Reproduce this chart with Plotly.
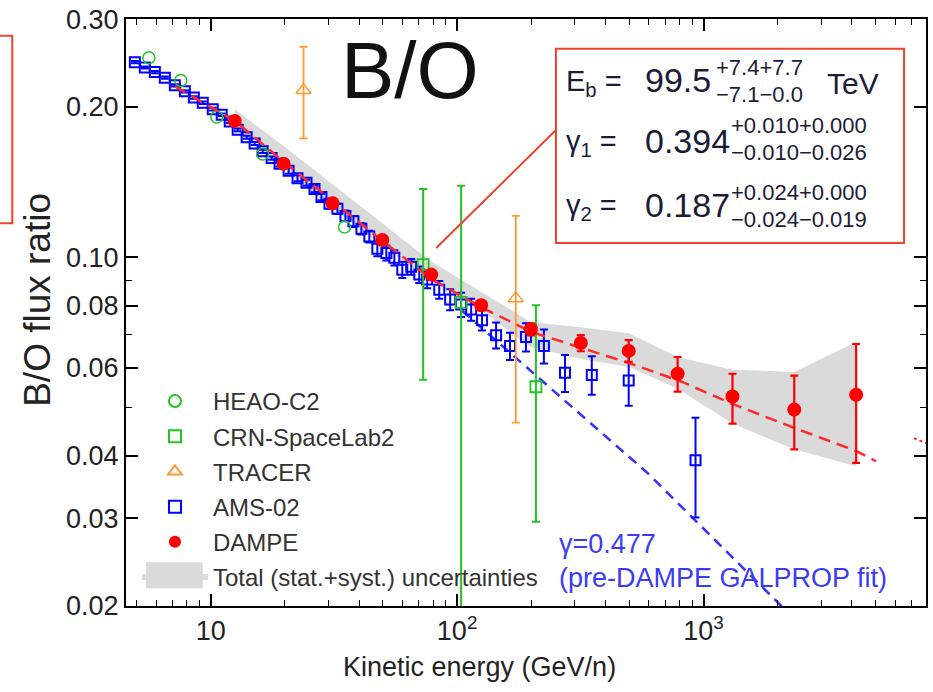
import plotly.graph_objects as go

# ---------------- data ----------------
ams_E = [4.92, 5.40, 5.93, 6.51, 7.15, 7.85, 8.54, 9.28, 10.19, 11.08, 11.94, 12.86,
         13.99, 15.07, 16.24, 17.66, 19.02, 20.70, 22.50, 24.47, 26.37, 28.14, 30.33,
         32.67, 35.21, 37.94, 40.87, 44.02, 47.44, 51.6, 55.6, 59.9, 65.1, 70.2, 75.6,
         84.6, 93.7, 103.8, 114.0, 126.2, 143.9, 163.9, 190.2, 225.0, 274.0, 352.0,
         497.0, 928.0]
ams_R = [0.246, 0.240, 0.235, 0.229, 0.221, 0.215, 0.209, 0.204, 0.198, 0.193, 0.187,
         0.180, 0.174, 0.169, 0.163, 0.158, 0.154, 0.149, 0.144, 0.141, 0.137, 0.132,
         0.128, 0.125, 0.121, 0.118, 0.114, 0.110, 0.104, 0.102, 0.0998, 0.0944, 0.0957,
         0.0923, 0.0902, 0.0861, 0.0823, 0.0804, 0.0786, 0.0748, 0.0698, 0.0664, 0.0692,
         0.0664, 0.0587, 0.0581, 0.0566, 0.0392]
ams_up = [0.0012] * 16 + [0.002] * 6 + [0.003] * 6 + [0.0035] * 7 + \
         [0.0035, 0.004, 0.0045, 0.004, 0.0035, 0.0042, 0.0042, 0.0045, 0.0052,
          0.0050, 0.0052, 0.0071, 0.0085]
ams_dn = [0.0012] * 16 + [0.002] * 6 + [0.003] * 6 + [0.0035] * 7 + \
         [0.0035, 0.004, 0.0045, 0.004, 0.0035, 0.0042, 0.0042, 0.0045, 0.0052,
          0.0050, 0.0051, 0.0062, 0.0091]

heao_E = [5.61, 7.56, 10.58, 16.24, 34.9]
heao_R = [0.251, 0.226, 0.191, 0.161, 0.115]

crn_E = [72.8, 103.8, 208.8]
crn_R = [0.0966, 0.0812, 0.0550]
crn_up = [0.0404, 0.0578, 0.0251]
crn_dn = [0.0398, 0.0762, 0.0255]

tracer_E = [23.8, 173.0]
tracer_R = [0.216, 0.0827]
tracer_up = [0.048, 0.0383]
tracer_dn = [0.043, 0.0361]

dampe_E = [12.51, 19.75, 31.2, 49.7, 78.5, 125.1, 199.3, 317.7, 497.0, 785.0,
           1311.0, 2335.0, 4164.0]
dampe_R = [0.1876, 0.154, 0.1283, 0.1083, 0.0923, 0.0801, 0.0717, 0.0673, 0.0649,
           0.0584, 0.0526, 0.0495, 0.0530]
dampe_up = [0.001, 0.001, 0.001, 0.0012, 0.0015, 0.0018, 0.002, 0.0025, 0.0033,
            0.0047, 0.0058, 0.0084, 0.0140]
dampe_dn = [0.001, 0.001, 0.001, 0.0012, 0.0015, 0.0018, 0.002, 0.0025, 0.0032,
            0.0046, 0.0062, 0.0083, 0.0143]

band_E = dampe_E
band_hi = [0.198, 0.167, 0.140, 0.117, 0.098, 0.0853, 0.0741, 0.0724, 0.0704,
           0.0631, 0.0595, 0.0589, 0.0676]
band_lo = [0.1834, 0.1506, 0.1254, 0.1054, 0.0898, 0.0782, 0.0661, 0.0625, 0.0603,
           0.0545, 0.0464, 0.0412, 0.0381]

fit_E = [7.15, 12.51, 19.75, 31.2, 49.7, 79.2, 125.1, 201.0, 320.6, 511.0, 815.0,
         1298.0, 2358.0, 4164.0, 5012.0]
fit_R = [0.220, 0.1876, 0.1555, 0.1295, 0.1078, 0.0902, 0.0794, 0.0708, 0.0658,
         0.0611, 0.0563, 0.0509, 0.0454, 0.0409, 0.0390]

galprop_E = [105.0, 598.0, 2069.0, 2400.0]
galprop_R = [0.078, 0.0368, 0.0200, 0.0187]

stray_E = [7145.0, 8000.0]
stray_R = [0.0434, 0.0424]

x_tickvals = [10, 100, 1000]
x_ticktext = ["10", "10<sup>2</sup>", "10<sup>3</sup>"]
x_minor = [5, 6, 7, 8, 9, 20, 30, 40, 50, 60, 70, 80, 90, 200, 300, 400, 500, 600,
           700, 800, 900, 2000, 3000, 4000, 5000, 6000, 7000, 8000]
y_tickvals = [0.02, 0.03, 0.04, 0.06, 0.08, 0.10, 0.20, 0.30]
y_ticktext = ["0.02", "0.03", "0.04", "0.06", "0.08", "0.10", "0.20", "0.30"]
y_minor = [0.05, 0.07, 0.09]

# ---------------- styling ----------------
FONT = "Liberation Sans, Arial, sans-serif"
BLUE = "#0000ff"
GREEN = "#22c422"
ORANGE = "#ff9933"
RED = "#ff0000"
BAND = "#dadada"

fig = go.Figure()

# uncertainty band
fig.add_trace(go.Scatter(
    x=band_E + band_E[::-1], y=band_hi + band_lo[::-1],
    fill="toself", fillcolor=BAND, mode="none",
    name="Total (stat.+syst.) uncertainties", legendrank=6, legendgroup="g6",
    hoverinfo="skip"))

# GALPROP fit (blue dashed)
fig.add_trace(go.Scatter(
    x=galprop_E, y=galprop_R, mode="lines", showlegend=False,
    line=dict(color="#3333ff", width=2.5, dash="10px,7px")))

# AMS-02
fig.add_trace(go.Scatter(
    x=ams_E, y=ams_R, mode="markers", name="AMS-02", legendrank=4, legendgroup="g4",
    marker=dict(symbol="square-open", size=10, color=BLUE, line=dict(width=2)),
    error_y=dict(type="data", symmetric=False, array=ams_up, arrayminus=ams_dn,
                 color=BLUE, thickness=2, width=4)))

# HEAO-C2
fig.add_trace(go.Scatter(
    x=heao_E, y=heao_R, mode="markers", name="HEAO-C2", legendrank=1, legendgroup="g1",
    marker=dict(symbol="circle-open", size=12, color=GREEN, line=dict(width=1.5))))

# CRN-SpaceLab2
fig.add_trace(go.Scatter(
    x=crn_E, y=crn_R, mode="markers", name="CRN-SpaceLab2", legendrank=2,
    legendgroup="g2",
    marker=dict(symbol="square-open", size=11, color=GREEN, line=dict(width=1.8)),
    error_y=dict(type="data", symmetric=False, array=crn_up, arrayminus=crn_dn,
                 color=GREEN, thickness=2, width=4)))

# TRACER
fig.add_trace(go.Scatter(
    x=tracer_E, y=tracer_R, mode="markers", name="TRACER", legendrank=3,
    legendgroup="g3",
    marker=dict(symbol="triangle-up-open", size=13, color=ORANGE, line=dict(width=1.5)),
    error_y=dict(type="data", symmetric=False, array=tracer_up, arrayminus=tracer_dn,
                 color=ORANGE, thickness=1.8, width=4)))

# DAMPE fit (red dashed)
fig.add_trace(go.Scatter(
    x=fit_E, y=fit_R, mode="lines", showlegend=False,
    line=dict(color="#ff2a2a", width=2.5, dash="12px,7px")))
fig.add_trace(go.Scatter(
    x=stray_E, y=stray_R, mode="lines", showlegend=False,
    line=dict(color="#ff2a2a", width=2, dash="dot")))

# DAMPE
fig.add_trace(go.Scatter(
    x=dampe_E, y=dampe_R, mode="markers", name="DAMPE", legendrank=5, legendgroup="g5",
    marker=dict(symbol="circle", size=14, color=RED),
    error_y=dict(type="data", symmetric=False, array=dampe_up, arrayminus=dampe_dn,
                 color=RED, thickness=2.2, width=4)))

# ---------------- layout ----------------
W, H = 933, 692
L, R, T, B = 126, 5, 14, 86
PW, PH = W - L - R, H - T - B


def px(xp):
    return (xp - L) / PW


def py(yp):
    return (H - B - yp) / PH


axis_common = dict(showline=True, linecolor="black", linewidth=2, mirror="ticks",
                   ticks="inside", tickcolor="black", tickwidth=1.5, ticklen=12,
                   showgrid=False, zeroline=False, ticklabeloverflow="allow",
                   tickfont=dict(family=FONT, size=27, color="#222222"))

fig.update_layout(
    width=W, height=H, margin=dict(l=L, r=R, t=T, b=B, pad=0),
    paper_bgcolor="white", plot_bgcolor="white",
    font=dict(family=FONT, color="#222222"),
    xaxis=dict(type="log", range=[0.656, 3.903], tickmode="array",
               tickvals=x_tickvals, ticktext=x_ticktext,
               minor=dict(tickmode="array", tickvals=x_minor, ticks="inside",
                          ticklen=6, tickwidth=1.2, tickcolor="black"),
               **axis_common),
    yaxis=dict(type="log", range=[-1.699, -0.5226], tickmode="array",
               tickvals=y_tickvals, ticktext=y_ticktext,
               minor=dict(tickmode="array", tickvals=y_minor, ticks="inside",
                          ticklen=6, tickwidth=1.2, tickcolor="black"),
               **axis_common),
    legend=dict(x=px(137), y=py(377), xanchor="left", yanchor="top",
                bgcolor="rgba(0,0,0,0)", borderwidth=0, tracegroupgap=1,
                traceorder="grouped", itemsizing="constant", itemwidth=66,
                font=dict(family=FONT, size=24, color="#333333")),
    showlegend=True,
)

# annotation box and connector
fig.add_shape(type="rect", xref="paper", yref="paper",
              x0=px(557), x1=px(906), y0=py(240), y1=py(44),
              line=dict(color="#f0412f", width=2), fillcolor="white", layer="above")
fig.add_shape(type="line", xref="paper", yref="paper",
              x0=px(437), y0=py(245), x1=px(557), y1=py(126),
              line=dict(color="#f0412f", width=2))
# partial red box on the left edge
fig.add_shape(type="rect", xref="paper", yref="paper",
              x0=px(-20), x1=px(12), y0=py(220), y1=py(31),
              line=dict(color="#f0412f", width=2))

TXT = "#1c1c38"


def ann(text, x, y, size, color=TXT, xanchor="left", angle=0):
    fig.add_annotation(text=text, xref="paper", yref="paper", x=px(x), y=py(y),
                       xanchor=xanchor, yanchor="middle", showarrow=False,
                       textangle=angle,
                       font=dict(family=FONT, size=size, color=color))


# axis titles
ann("Kinetic energy (GeV/n)", 480, 668, 27, color="#222222", xanchor="center")
ann("B/O flux ratio", 37, 297, 37, color="#222222", xanchor="center", angle=-90)

ann("B/O", 340, 66, 80, color="#111111")

ann("E<sub>b</sub> =", 565, 79, 29)
ann("99.5", 644, 76, 34)
ann("+7.4+7.7", 715, 63, 22)
ann("\u22127.1\u22120.0", 715, 90, 22)
ann("TeV", 827, 79, 30)

ann("\u03b3<sub>1</sub> =", 565, 139, 29)
ann("0.394", 644, 137, 34)
ann("+0.010+0.000", 731, 121, 22)
ann("\u22120.010\u22120.026", 731, 149, 22)

ann("\u03b3<sub>2</sub> =", 565, 204, 29)
ann("0.187", 644, 202, 34)
ann("+0.024+0.000", 731, 189, 22)
ann("\u22120.024\u22120.019", 731, 216, 22)

ann("\u03b3=0.477", 558, 543, 27, color="#3b3bf5")
ann("(pre-DAMPE GALPROP fit)", 558, 578, 27, color="#3b3bf5")

# legend key box for the uncertainty band (drawn as a filled swatch)
fig.add_shape(type="rect", xref="paper", yref="paper",
              x0=px(146), x1=px(203), y0=py(588), y1=py(562),
              line=dict(width=0), fillcolor=BAND, layer="above")

fig.write_html("out.html")
